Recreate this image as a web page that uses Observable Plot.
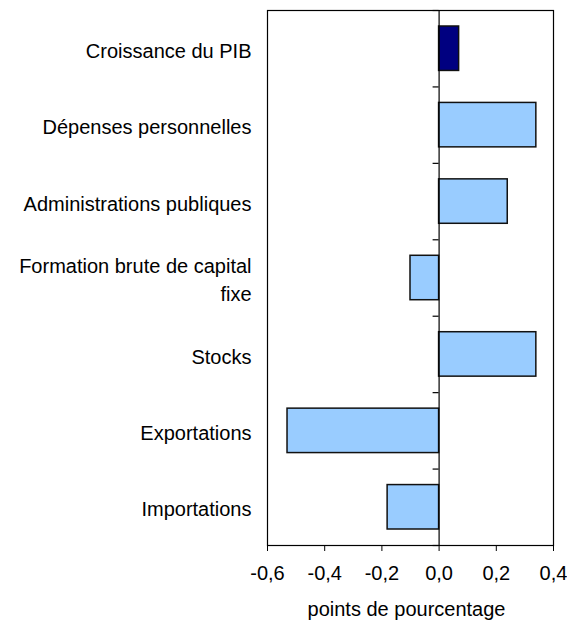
<!DOCTYPE html>
<html>
<head>
<meta charset="utf-8">
<script src="https://cdn.jsdelivr.net/npm/d3@7"></script>
<script src="https://cdn.jsdelivr.net/npm/@observablehq/plot@0.6"></script>
<style>
  body { margin: 0; background: #fff; }
  svg { display: block; }
</style>
</head>
<body>
<div id="chart"></div>
<script>
const categories = [
  "Croissance du PIB",
  "Dépenses personnelles",
  "Administrations publiques",
  "Formation brute de capital\nfixe",
  "Stocks",
  "Exportations",
  "Importations"
];
const values = [0.07, 0.34, 0.24, -0.1, 0.34, -0.53, -0.18];
const highlight = [true, false, false, false, false, false, false];
const xTicks = [-0.6, -0.4, -0.2, 0, 0.2, 0.4];
const axisTitle = "points de pourcentage";

const rows = categories.map((c, i) => ({cat: c, i, value: values[i], hl: highlight[i]}));
const boundaries = d3.range(categories.length + 1);
const fmt = d => d.toFixed(1).replace(".", ",");

const chart = Plot.plot({
  width: 567,
  height: 622,
  marginLeft: 267,
  marginRight: 14,
  marginTop: 10,
  marginBottom: 77,
  style: {fontFamily: "'Liberation Sans', Arial, sans-serif", fontSize: "20px", color: "#000", background: "#fff"},
  x: {domain: [-0.6, 0.4]},
  y: {domain: [0, categories.length], reverse: true, axis: null},
  marks: [
    Plot.rectX(rows, {
      x1: 0, x2: "value", y1: "i", y2: d => d.i + 1,
      insetTop: 16, insetBottom: 16,
      fill: d => d.hl ? "#000080" : "#99CCFF",
      stroke: "#111", strokeWidth: 1.5
    }),
    Plot.ruleX([0], {stroke: "#000", strokeWidth: 1.2}),
    Plot.ruleY(boundaries, {y: d => d, x1: 0, x2: 0, insetLeft: -6, stroke: "#000", strokeWidth: 1.2}),
    Plot.frame({stroke: "#000", strokeWidth: 1.2}),
    Plot.axisX(xTicks, {
      anchor: "bottom", tickSize: 6, tickPadding: 14, tickFormat: fmt,
      label: null, fontSize: 20, stroke: "#000", fill: "#000"
    }),
    Plot.text(rows, {
      text: "cat", y: d => d.i + 0.5, frameAnchor: "left", textAnchor: "end",
      lineAnchor: "middle", lineHeight: 1.42, dx: -16, fontSize: 20, fill: "#000"
    }),
    Plot.text([axisTitle], {
      frameAnchor: "bottom", textAnchor: "middle", lineAnchor: "top",
      dy: 56, dx: -4, fontSize: 20, fill: "#000"
    })
  ]
});
document.getElementById("chart").appendChild(chart);
</script>
</body>
</html>
